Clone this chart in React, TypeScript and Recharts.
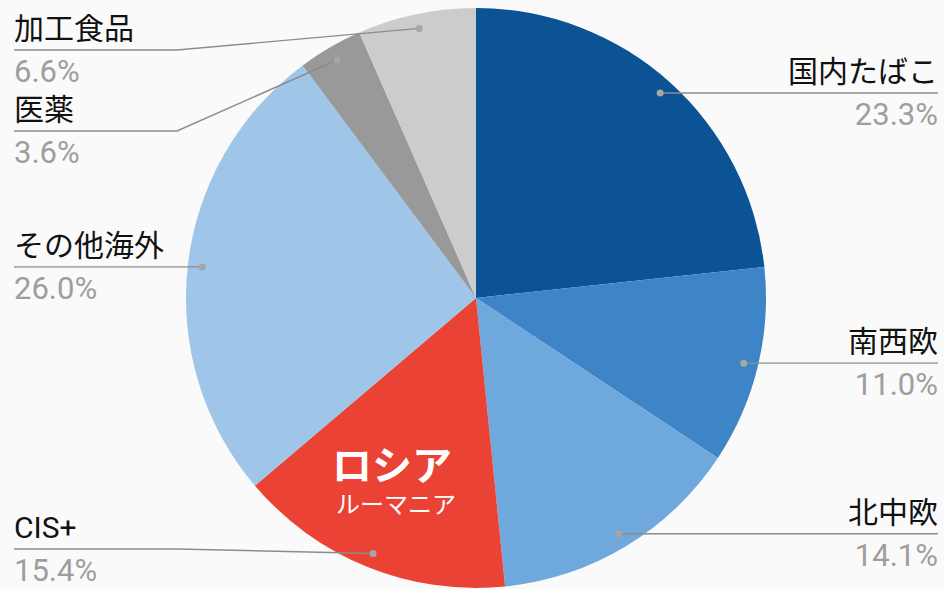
import { PieChart, Pie, Cell } from 'recharts';

const categories = ['国内たばこ', '南西欧', '北中欧', 'CIS+', 'その他海外', '医薬', '加工食品'];
const shares = [23.3, 11.0, 14.1, 15.4, 26.0, 3.6, 6.6];
const COLORS = ['#0b5394', '#3d85c6', '#6fa8dc', '#ea4335', '#9fc5e8', '#999999', '#cccccc'];

// slice with the inner callout text
const HIGHLIGHT = 'CIS+';
const highlightTitle = 'ロシア';
const highlightSub = 'ルーマニア';

const W = 944;
const H = 589;
const CX = 476;
const CY = 298;
const R = 290;
const DOT_R = R * 0.95;
const LEFT_X = 14;
const RIGHT_X = 938;
const ELBOW = 177;
const LABEL_GAP = 81;
const LABEL_TOP = 50;
const LABEL_BOTTOM = 549;
const RAD = Math.PI / 180;

const data = categories.map((name, i) => ({ name, value: shares[i] }));

// where each leader line ends up, pushed apart so labels don't collide
function layoutLabels() {
  const total = shares.reduce((a, b) => a + b, 0);
  let acc = 0;
  const items = shares.map((v, i) => {
    const mid = ((acc + v / 2) / total) * 360; // clockwise from 12 o'clock
    acc += v;
    return { i, right: Math.sin(mid * RAD) >= 0, y: CY - DOT_R * Math.cos(mid * RAD) };
  });
  const out: number[] = [];
  for (const side of [true, false]) {
    const group = items.filter((d) => d.right === side).sort((a, b) => a.y - b.y);
    const ys = group.map((d) => Math.min(LABEL_BOTTOM, Math.max(LABEL_TOP, d.y)));
    for (let k = 1; k < ys.length; k++) ys[k] = Math.max(ys[k], ys[k - 1] + LABEL_GAP);
    for (let k = ys.length - 2; k >= 0; k--) ys[k] = Math.min(ys[k], ys[k + 1] - LABEL_GAP);
    group.forEach((d, k) => (out[d.i] = ys[k]));
  }
  return out;
}

const labelYs = layoutLabels();

const renderLabel = (props: any) => {
  const { cx, cy, midAngle, index, name, value } = props;
  const dx = cx + DOT_R * Math.cos(-midAngle * RAD);
  const dy = cy + DOT_R * Math.sin(-midAngle * RAD);
  const right = dx >= cx;
  const ly = labelYs[index];
  const elbowX = right ? W - ELBOW : ELBOW;
  const endX = right ? RIGHT_X : LEFT_X;
  const anchor = right ? 'end' : 'start';
  return (
    <g key={`lbl-${index}`}>
      <polyline
        points={`${dx},${dy} ${elbowX},${ly} ${endX},${ly}`}
        fill="none"
        stroke="#8c8c8c"
        strokeWidth={1.4}
      />
      <circle cx={dx} cy={dy} r={3.5} fill="#a6a6a6" />
      <text x={endX} y={ly - 11} textAnchor={anchor} fontSize={30} fill="#111">
        {name}
      </text>
      <text x={endX} y={ly + 32} textAnchor={anchor} fontSize={31} fill="#9e9e9e">
        {value.toFixed(1)}%
      </text>
      {name === HIGHLIGHT && (
        <>
          <text x={cx - 84} y={cy + 182} textAnchor="middle" fontSize={40} fontWeight={700} fill="#fff">
            {highlightTitle}
          </text>
          <text x={cx - 80} y={cy + 215} textAnchor="middle" fontSize={24} fill="#fff">
            {highlightSub}
          </text>
        </>
      )}
    </g>
  );
};

export default function App() {
  return (
    <div
      style={{
        position: 'fixed',
        left: 0,
        top: 0,
        width: W,
        height: H,
        background: '#fafafa',
        fontFamily: "Roboto, 'Noto Sans CJK JP', sans-serif",
      }}
    >
      <PieChart width={W} height={H} margin={{ top: 0, right: 0, bottom: 0, left: 0 }}>
        <Pie
          data={data}
          dataKey="value"
          nameKey="name"
          cx={CX}
          cy={CY}
          outerRadius={R}
          startAngle={90}
          endAngle={-270}
          stroke="none"
          label={renderLabel}
          labelLine={false}
          isAnimationActive={false}
        >
          {data.map((d, i) => (
            <Cell key={d.name} fill={COLORS[i]} />
          ))}
        </Pie>
      </PieChart>
    </div>
  );
}
